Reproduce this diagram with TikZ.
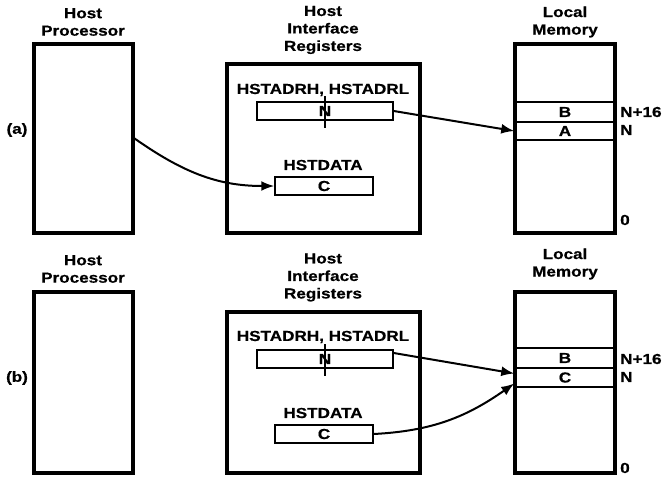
\documentclass[tikz,border=0pt]{standalone}
\usepackage{fontspec}
\setmainfont{Liberation Sans}[FakeStretch=1.18, FakeBold=0.6]
\usetikzlibrary{arrows.meta}

\begin{document}
\begin{tikzpicture}[x=1pt, y=-1pt,
  every node/.style={font=\fontsize{14.5}{17.5}\selectfont\bfseries, inner sep=0pt},
  unit/.style={draw, line width=3.2pt, minimum width=#1},
  reg/.style={draw, line width=1.5pt, minimum height=18pt, minimum width=#1},
  memrow/.style={draw, line width=1.5pt, minimum width=100pt, minimum height=#1},
  title/.style={align=center},
  link/.style={line width=2pt, -{Latex[length=13pt,width=10pt]}}]
 \useasboundingbox (0,0) rectangle (666,485);
 % (a)
 \node at (17,130){(a)};
 \node[title] at (83,22){Host\\Processor};
 \node[title] at (323,30){Host\\Interface\\Registers};
 \node[title] at (565,22){Local\\Memory};
 \node[unit=99pt, minimum height=189pt] (hpa) at (83.5,138.5){};
 \node[unit=193pt, minimum height=169pt] (hira) at (323.5,148.5){};
 \node[unit=100pt, minimum height=189pt] (lma) at (565,138.5){};
 \node (adra) at (323,90){HSTADRH, HSTADRL};
 \node[reg=136pt] (regNa) at (325,111){N};
 \draw[line width=1.2pt] ([yshift=5pt]regNa.north) -- ([yshift=-7pt]regNa.south);
 \node (dataa) at (323,165){HSTDATA};
 \node[reg=98pt] (regCa) at (324,186){C};
 \node[memrow=20pt] (memBa) at (565,112){B};
 \node[memrow=18pt] (memAa) at (565,131){A};
 \node[anchor=west] at (620,112){N+16};
 \node[anchor=west] at (620,130){N};
 \node[anchor=west] at (620,220){0};
 \draw[link] (regNa.east) -- (memAa.west);
 \draw[link] (hpa.east) to[out=-35, in=180] (regCa.west);
 % (b)
 \node at (17,378){(b)};
 \node[title] at (83,269){Host\\Processor};
 \node[title] at (323,277.5){Host\\Interface\\Registers};
 \node[title] at (565,264){Local\\Memory};
 \node[unit=99pt, minimum height=181pt] (hpb) at (83.5,382.5){};
 \node[unit=193pt, minimum height=161pt] (hirb) at (323.5,392.5){};
 \node[unit=100pt, minimum height=181pt] (lmb) at (565,382.5){};
 \node (adrb) at (323,337){HSTADRH, HSTADRL};
 \node[reg=136pt] (regNb) at (325,359){N};
 \draw[line width=1.2pt] ([yshift=5pt]regNb.north) -- ([yshift=-7pt]regNb.south);
 \node (datab) at (323,413){HSTDATA};
 \node[reg=98pt] (regCb) at (324,434){C};
 \node[memrow=20pt] (memBb) at (565,358){B};
 \node[memrow=19pt] (memCb) at (565,377.5){C};
 \node[anchor=west] at (620,359){N+16};
 \node[anchor=west] at (620,377){N};
 \node[anchor=west] at (620,468){0};
 \draw[link] ([yshift=6pt]regNb.east) -- ([yshift=4pt]memCb.west);
 \draw[link] (regCb.east) to[out=3, in=-145] ([yshift=-6pt]memCb.west);
\end{tikzpicture}
\end{document}
